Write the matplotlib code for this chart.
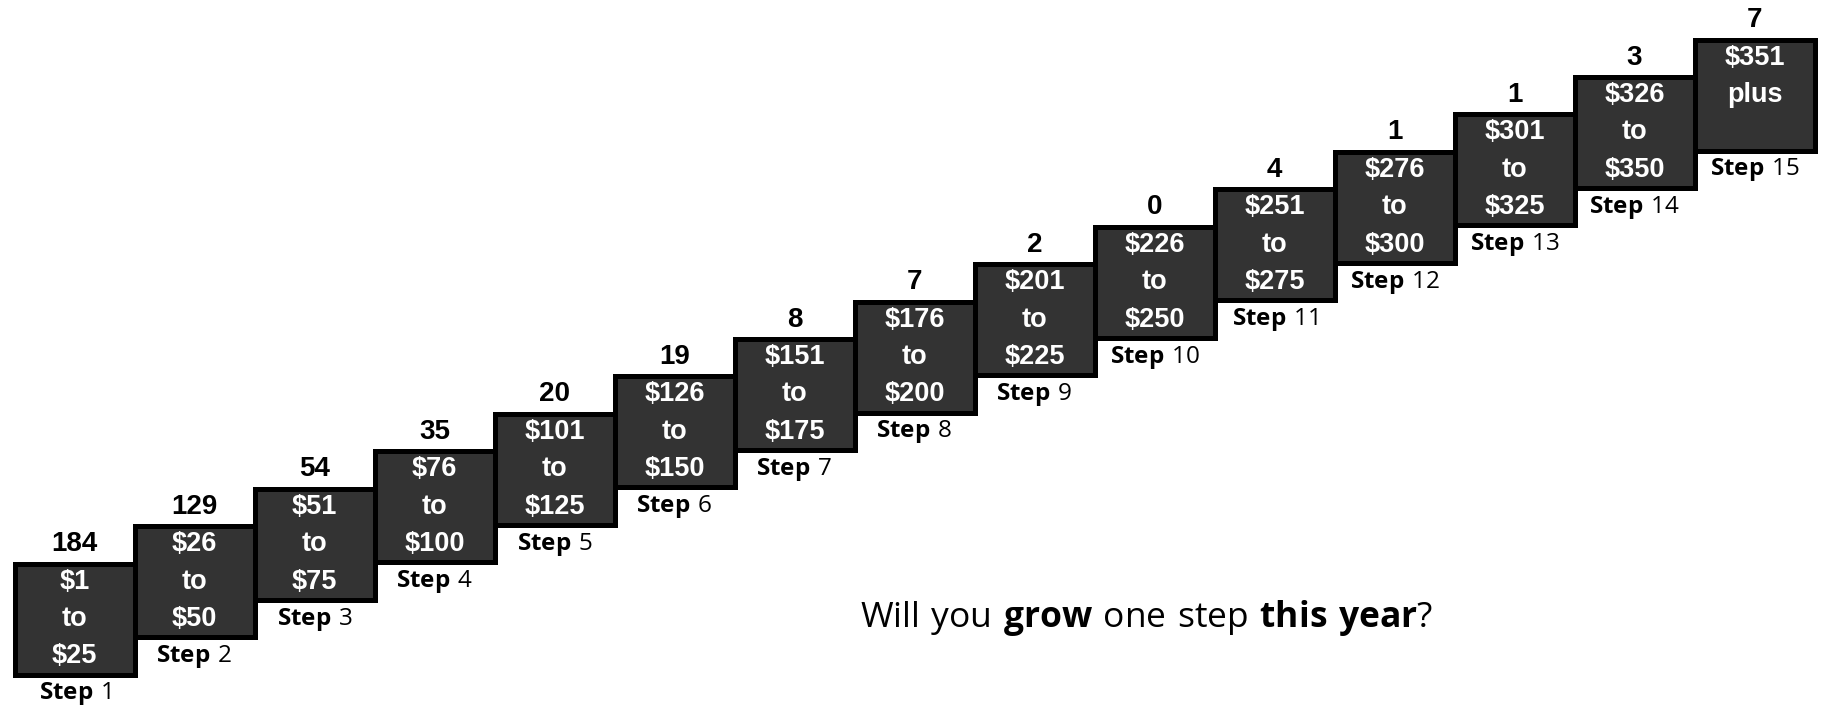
import numpy as np
import matplotlib.pyplot as plt

# fee steps and how many members sit on each one
steps = np.arange(1, 16)
members = [184, 129, 54, 35, 20, 19, 8, 7, 2, 0, 4, 1, 1, 3, 7]
range_low = ['$1', '$26', '$51', '$76', '$101', '$126', '$151', '$176',
             '$201', '$226', '$251', '$276', '$301', '$326', '$351']
range_mid = ['to'] * 14 + ['plus']
range_high = ['$25', '$50', '$75', '$100', '$125', '$150', '$175', '$200',
              '$225', '$250', '$275', '$300', '$325', '$350', '']

plt.rcParams['mathtext.fontset'] = 'custom'
plt.rcParams['mathtext.rm'] = 'Open Sans'
plt.rcParams['mathtext.bf'] = 'Open Sans:bold'

fig = plt.figure(figsize=(18.22, 7.08), dpi=100)
ax = fig.add_axes([0, 0, 1, 1])
ax.set_xlim(0.379, 15.5625)
ax.set_ylim(-1.378, 17.54)
ax.axis('off')

box_h = 2.966
ax.bar(steps, box_h, bottom=steps - box_h / 2, width=1.0,
       color='#333333', edgecolor='black', linewidth=3.6)

for s, n, lo, mid, hi in zip(steps, members, range_low, range_mid, range_high):
    ax.text(s, s + 2, str(n), ha='center', va='center', fontsize=20,
            fontweight='bold', family='Liberation Sans', color='black')
    for dy, t in ((1, lo), (0, mid), (-1, hi)):
        ax.text(s, s + dy, t, ha='center', va='center', fontsize=19.5,
                fontweight='bold', family='Liberation Sans', color='white')
    ax.text(s, s - 2, r'$\mathbf{Step}\ \mathrm{%d}$' % s, ha='center',
            va='center', fontsize=17.5, color='black')

fig.text(860 / 1822, 1 - 627 / 708,
         r'$\mathrm{Will\ you}\ \mathbf{grow}\ \mathrm{one\ step}\ \mathbf{this\ year}\mathrm{?}$',
         ha='left', va='baseline', fontsize=25.5, color='black')

fig.savefig('out.png', dpi=100)
